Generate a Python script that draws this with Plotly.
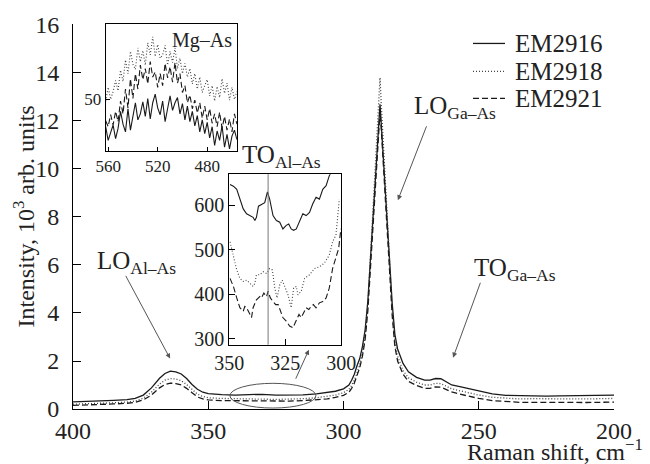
import plotly.graph_objects as go

# ---------------- main spectra (intensity in 10^3 arb. units) ----------------
main_x = [400, 395, 390, 385, 380, 377, 374, 371, 368, 366, 364, 362, 360, 358, 356,
          354, 352, 350, 345, 340, 335, 330, 325, 320, 315, 310, 306, 303, 300, 298,
          297, 296, 295, 294, 293, 292, 291, 290, 289, 288, 287, 286.5, 286, 285, 284,
          283, 282, 281, 280, 278, 276, 273, 270, 268, 266, 264, 262, 260, 257, 254,
          250, 245, 240, 235, 230, 225, 220, 215, 210, 205, 200]
em2916 = [0.30, 0.31, 0.33, 0.36, 0.39, 0.44, 0.58, 0.88, 1.28, 1.48, 1.58, 1.55, 1.46, 1.27, 1.02,
          0.82, 0.70, 0.64, 0.60, 0.58, 0.60, 0.61, 0.58, 0.57, 0.59, 0.63, 0.68, 0.74, 0.84, 1.0,
          1.2, 1.45, 1.8, 2.1, 2.6, 3.3, 4.5, 6.4, 8.2, 10.0, 11.8, 12.7, 11.8, 10.0, 8.2,
          6.4, 4.4, 3.1, 2.5, 1.9, 1.55, 1.32, 1.2, 1.2, 1.27, 1.26, 1.12, 1.0, 0.93, 0.86,
          0.74, 0.63, 0.57, 0.55, 0.56, 0.54, 0.55, 0.56, 0.55, 0.56, 0.58]
em2918 = [0.20, 0.21, 0.23, 0.26, 0.29, 0.33, 0.45, 0.70, 1.04, 1.20, 1.27, 1.25, 1.18, 1.02, 0.82,
          0.62, 0.52, 0.47, 0.44, 0.42, 0.43, 0.41, 0.40, 0.41, 0.43, 0.47, 0.52, 0.58, 0.68, 0.82,
          0.98, 1.2, 1.5, 1.85, 2.35, 3.1, 4.3, 6.3, 8.4, 10.5, 12.6, 13.8, 12.6, 10.5, 8.4,
          6.2, 4.1, 2.8, 2.2, 1.6, 1.3, 1.12, 1.0, 1.0, 1.07, 1.06, 0.94, 0.84, 0.76, 0.68,
          0.58, 0.49, 0.44, 0.42, 0.43, 0.42, 0.42, 0.43, 0.42, 0.43, 0.44]
em2921 = [0.15, 0.16, 0.18, 0.21, 0.24, 0.28, 0.38, 0.58, 0.88, 1.02, 1.08, 1.06, 1.0, 0.86, 0.68,
          0.50, 0.42, 0.38, 0.35, 0.34, 0.35, 0.34, 0.33, 0.33, 0.35, 0.38, 0.42, 0.48, 0.57, 0.7,
          0.86, 1.08, 1.38, 1.72, 2.2, 2.9, 4.1, 6.0, 8.0, 10.0, 11.6, 12.4, 11.6, 9.8, 7.9,
          5.9, 3.9, 2.6, 2.0, 1.45, 1.15, 0.98, 0.86, 0.86, 0.92, 0.91, 0.80, 0.71, 0.62, 0.54,
          0.44, 0.35, 0.30, 0.28, 0.28, 0.27, 0.28, 0.28, 0.27, 0.28, 0.29]

# ---------------- inset 1 : Mg-As region ----------------
mg_x = [562, 560, 558, 556, 554, 552, 550, 548, 546, 544,
        542, 540, 538, 536, 534, 532, 530, 528, 526, 524,
        522, 520, 518, 516, 514, 512, 510, 508, 506, 504,
        502, 500, 498, 496, 494, 492, 490, 488, 486, 484,
        482, 480, 478, 476, 474, 472, 470, 468, 466, 464,
        462, 460, 458, 456]
mg_2916 = [46.8, 45.2, 46.1, 47.0, 45.4, 46.6, 48.6, 47.1, 46.2, 48.9,
           46.4, 47.8, 49.6, 47.6, 48.3, 49.7, 48.0, 50.1, 47.7, 49.6,
           50.6, 49.0, 48.2, 49.8, 47.4, 48.9, 50.4, 48.7, 49.6, 50.2,
           48.3, 49.5, 47.6, 49.2, 47.4, 48.6, 46.9, 48.1, 46.2, 47.6,
           46.0, 47.3, 45.5, 46.8, 44.6, 46.3, 45.2, 46.9, 44.4, 45.9,
           44.2, 45.7, 46.4, 45.3]
mg_2918 = [49.8, 51.4, 50.0, 50.9, 52.2, 51.0, 53.4, 52.1, 54.6, 53.0,
           55.6, 54.1, 53.5, 56.0, 54.4, 55.7, 54.0, 56.6, 55.2, 57.3,
           55.0, 56.4, 54.8, 55.2, 56.3, 54.0, 55.6, 54.3, 56.0, 53.6,
           54.8, 53.0, 54.2, 52.6, 53.6, 51.8, 53.0, 51.2, 52.6, 50.8,
           51.6, 52.3, 50.4, 51.6, 49.8, 51.5, 50.2, 52.4, 50.7, 51.9,
           49.9, 51.4, 50.0, 50.9]
mg_2921 = [47.5, 46.8, 48.2, 47.0, 48.6, 47.4, 49.8, 48.3, 51.2, 49.0,
           52.4, 50.1, 53.0, 51.2, 54.0, 52.3, 53.6, 51.8, 54.4, 52.6,
           53.2, 51.4, 53.0, 51.6, 54.2, 52.5, 53.8, 52.0, 54.3, 51.9,
           53.0, 50.8, 51.6, 49.6, 50.5, 48.9, 49.9, 48.4, 49.6, 47.8,
           49.2, 47.6, 48.9, 47.2, 48.3, 46.8, 48.5, 46.6, 48.0, 46.4,
           47.7, 46.2, 48.3, 47.1]

# ---------------- inset 2 : TO Al-As region ----------------
to_x_2916 = [349.7, 348.2, 346.7, 345.3, 343.8, 342.3, 340.8, 339.4, 338.6, 337.9, 337.0, 335.5,
             334.2, 333.0, 332.0, 330.5, 329.0, 327.5, 326.1, 324.6, 323.5, 322.4, 321.3, 320.1,
             318.7, 317.2, 315.7, 314.2, 312.8, 311.3, 309.8, 308.3, 306.8, 305.4, 303.9]
to_y_2916 = [647, 643, 636, 614, 592, 581, 577, 573, 566, 573, 598, 603,
             606, 630, 614, 577, 566, 562, 547, 555, 558, 547, 544, 547,
             562, 581, 577, 584, 603, 618, 614, 636, 644, 666, 681]
to_x_2918 = [349.7, 349.0, 348.2, 346.7, 345.3, 343.8, 342.3, 340.8, 339.4, 338.6, 337.9, 336.4,
             334.9, 333.4, 332.0, 330.8, 329.7, 328.7, 327.5, 326.4, 325.3, 323.8, 322.4, 321.3,
             320.1, 319.4, 317.9, 316.4, 314.2, 312.0, 309.8, 307.6, 305.4, 303.9, 302.4, 300.9]
to_y_2918 = [518, 503, 481, 455, 436, 429, 432, 425, 418, 425, 444, 444,
             451, 447, 458, 455, 414, 392, 421, 432, 418, 399, 370, 414,
             418, 399, 407, 436, 444, 458, 462, 470, 488, 518, 533, 614]
to_x_2921 = [349.7, 348.2, 346.7, 345.3, 343.8, 343.1, 342.3, 340.8, 340.1, 339.4, 337.9, 336.4,
             335.7, 334.6, 333.4, 332.7, 331.7, 330.5, 329.3, 328.2, 327.2, 326.1, 324.6, 323.1,
             321.6, 320.1, 318.9, 317.9, 316.9, 315.7, 314.5, 313.5, 312.5, 311.3, 309.8, 308.3,
             306.8, 305.4, 303.9, 302.4, 301.2, 300.2]
to_y_2921 = [436, 418, 392, 370, 362, 373, 370, 355, 348, 370, 388, 395,
             392, 403, 395, 407, 392, 384, 377, 377, 362, 348, 340, 329,
             325, 340, 355, 348, 358, 370, 366, 373, 377, 370, 381, 384,
             392, 414, 458, 481, 503, 547]

names = ["EM2916", "EM2918", "EM2921"]

FONT = "Liberation Serif, Times New Roman, Times, DejaVu Serif, serif"
INK = "#1a1a1a"
styles = [dict(color=INK, width=1.3, dash="solid"),
          dict(color="#444444", width=1.3, dash="1px,2px"),
          dict(color=INK, width=1.3, dash="6px,3px")]

fig = go.Figure()
for name, ys, st in zip(names, [em2916, em2918, em2921], styles):
    fig.add_trace(go.Scatter(x=main_x, y=ys, mode="lines", name=name, line=st,
                             showlegend=False, xaxis="x", yaxis="y"))
for ys, st in zip([mg_2916, mg_2918, mg_2921], styles):
    fig.add_trace(go.Scatter(x=mg_x, y=ys, mode="lines", showlegend=False,
                             line=dict(st, width=1.1), xaxis="x2", yaxis="y2"))
for xs, ys, st in zip([to_x_2916, to_x_2918, to_x_2921], [to_y_2916, to_y_2918, to_y_2921], styles):
    fig.add_trace(go.Scatter(x=xs, y=ys, mode="lines", showlegend=False,
                             line=dict(st, width=1.1), xaxis="x3", yaxis="y3"))

axcommon = dict(showgrid=False, zeroline=False, showline=True, linecolor="black", linewidth=1,
                ticks="inside", tickcolor="black", tickwidth=1)

fig.update_layout(
    width=650, height=464,
    margin=dict(l=73, r=36, t=20, b=55),
    paper_bgcolor="white", plot_bgcolor="white",
    font=dict(family=FONT, color="#222222"),
    xaxis=dict(axcommon, domain=[0, 1], range=[400, 200], tickvals=[400, 350, 300, 250, 200],
               ticklen=8, tickfont=dict(size=24), anchor="y"),
    yaxis=dict(axcommon, domain=[0, 1], range=[0, 16.04], tickvals=list(range(0, 17, 2)),
               ticklen=8, tickfont=dict(size=24), ticklabelstandoff=8, anchor="x"),
    xaxis2=dict(axcommon, domain=[0.0604, 0.303], range=[562, 456], tickvals=[560, 520, 480],
                ticklen=4, mirror=True, tickfont=dict(size=17), anchor="y2"),
    yaxis2=dict(axcommon, domain=[0.671, 1], range=[44, 58.8], tickvals=[50],
                ticklen=4, mirror=True, tickfont=dict(size=17), anchor="x2"),
    xaxis3=dict(axcommon, domain=[0.289, 0.496], range=[350, 300], tickvals=[350, 325, 300],
                ticklen=6, mirror=True, tickfont=dict(size=20), anchor="y3"),
    yaxis3=dict(axcommon, domain=[0.167, 0.610], range=[287, 670], tickvals=[300, 400, 500, 600],
                ticklen=6, mirror=True, tickfont=dict(size=20), anchor="x3"),
    showlegend=False,
)

# legend drawn as line samples + text
leg_y = [0.9495, 0.877, 0.807]
for name, st, ly in zip(names, styles, leg_y):
    fig.add_shape(type="line", xref="paper", yref="paper", x0=0.7394, x1=0.7985, y0=ly, y1=ly,
                  line=dict(color=st["color"], width=1.3, dash=st["dash"]))
    fig.add_annotation(text=name, x=0.8128, y=ly, xref="paper", yref="paper", xanchor="left",
                       yanchor="middle", showarrow=False, font=dict(family=FONT, size=25, color="#222"))

# ellipse marking the TO Al-As region and the vertical marker inside inset 2
fig.add_shape(type="circle", xref="x", yref="y", x0=342, x1=310.2, y0=0.04, y1=1.07,
              line=dict(color="#555555", width=1))
fig.add_shape(type="line", xref="x3", yref="y3 domain", x0=332.7, x1=332.7, y0=0, y1=1,
              line=dict(color="#777777", width=1))

lab = dict(showarrow=False, font=dict(family=FONT, size=25, color="#222"), xanchor="left", yanchor="middle")
fig.add_annotation(text="LO<sub>Al–As</sub>", x=391.9, y=6.1, xref="x", yref="y", **lab)
fig.add_annotation(text="TO<sub>Al–As</sub>", x=338.3, y=10.5, xref="x", yref="y", **lab)
fig.add_annotation(text="LO<sub>Ga–As</sub>", x=274.7, y=12.55, xref="x", yref="y", **lab)
fig.add_annotation(text="TO<sub>Ga–As</sub>", x=252.5, y=5.8, xref="x", yref="y", **lab)
fig.add_annotation(text="Mg–As", x=0.98, y=0.98, xref="x2 domain", yref="y2 domain",
                   xanchor="right", yanchor="top", showarrow=False,
                   font=dict(family=FONT, size=20, color="#222"))

arrows = [((380.8, 5.61), (364.1, 2.10)),
          ((317.9, 1.20), (312.8, 2.47)),
          ((269.1, 11.84), (279.9, 8.70)),
          ((249.2, 5.32), (259.5, 2.14))]
for (tx, ty), (hx, hy) in arrows:
    fig.add_annotation(text="", x=hx, y=hy, ax=tx, ay=ty, xref="x", yref="y", axref="x", ayref="y",
                       showarrow=True, arrowhead=2, arrowsize=1, arrowwidth=1, arrowcolor="#555555",
                       standoff=0)

fig.add_annotation(text="Intensity, 10<sup>3</sup> arb. units", textangle=-90,
                   x=-0.0924, y=0.5, xref="paper", yref="paper", xanchor="center", yanchor="middle",
                   showarrow=False, font=dict(family=FONT, size=24, color="#222"))
fig.add_annotation(text="Raman shift, cm<sup>−1</sup>", x=1.0573, y=-0.1062, xref="paper", yref="paper",
                   xanchor="right", yanchor="middle", showarrow=False,
                   font=dict(family=FONT, size=24, color="#222"))

fig.write_html("out.html")
